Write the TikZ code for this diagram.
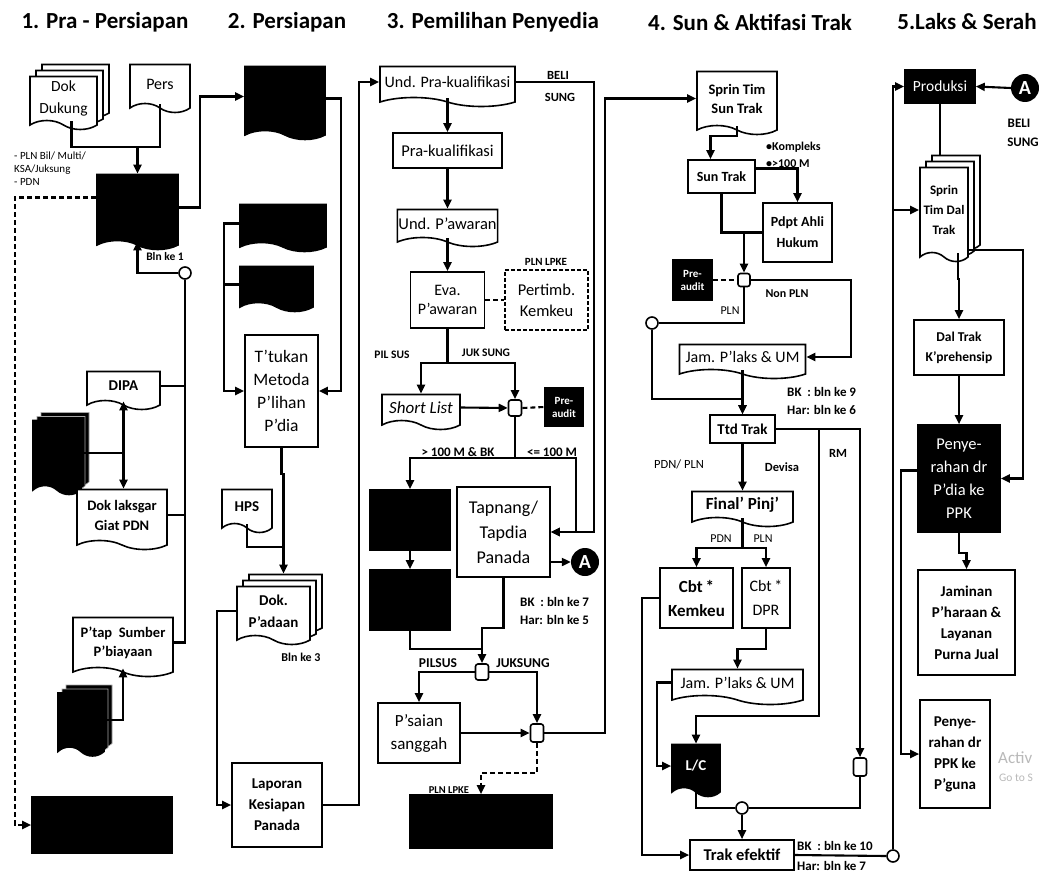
\documentclass[tikz,border=0pt]{standalone}
\usepackage{fontspec}
\setmainfont{Carlito}
\usetikzlibrary{shapes.symbols,shadows,arrows.meta}
\newcommand{\fz}[2]{\fontsize{#1pt}{#2pt}\selectfont}
\begin{document}
\begin{tikzpicture}[x=1pt,y=-1pt,
  base/.style={draw=black, line width=1.6pt, fill=white, inner sep=1pt, align=center, font=\fz{15}{18}},
  box/.style={base, rectangle},
  doc/.style={base, tape, tape bend top=none, tape bend bottom=out and in, tape bend height=9pt},
  blk/.style={fill=black, draw=black, text=white},
  multi/.style={double copy shadow={shadow xshift=6pt, shadow yshift=6pt, fill=white, draw=black, line width=1.6pt}},
  bmulti/.style={double copy shadow={shadow xshift=4pt, shadow yshift=4pt, fill=black, draw=gray!70, line width=0.6pt}},
  sz/.style 2 args={minimum width=#1pt, minimum height=#2pt},
  junc/.style={draw, line width=1.6pt, fill=white, rounded corners=2.5pt, minimum width=13pt, minimum height=16pt, inner sep=0pt},
  circ/.style={circle, draw, line width=1.6pt, fill=white, minimum size=12pt, inner sep=0pt},
  acirc/.style={circle, fill=black, text=white, minimum size=28pt, inner sep=0pt, font=\bfseries\fz{20}{20}},
  lbl/.style={font=\bfseries\fz{12.5}{14}, inner sep=0pt},
  rlbl/.style={font=\fz{12}{14}, inner sep=0pt},
  lnk/.style={line width=2.1pt},
  arr/.style={lnk, -{Triangle[length=9pt,width=8pt]}},
  arrb/.style={lnk, {Triangle[length=9pt,width=8pt]}-{Triangle[length=9pt,width=8pt]}},
  dsh/.style={lnk, dash pattern=on 5pt off 3pt},
  head/.style={font=\bfseries\fz{23}{26}, inner sep=0pt},
  pre/.style={box, blk, font=\bfseries\fz{11}{13}, inner sep=0pt},
]
\useasboundingbox (0,0) rectangle (1046,872);
\fill[white] (0,0) rectangle (1046,872);

% headings
\node[head] (h1) at (105,22) {1. Pra - Persiapan};
\node[head] (h2) at (287,22) {2. Persiapan};
\node[head] (h3) at (493,22) {3. Pemilihan Penyedia};
\node[head] (h4) at (750,22) {4. Sun \& Aktifasi Trak};
\node[head] (h5) at (967,22) {5.Laks \& Serah};

% ---------------- column 1
\node[doc, multi, sz={67}{53}, font=\fz{15.5}{22}] (dokdukung) at (63.5,98.5) {Dok\\Dukung};
\node[doc, sz={60}{48}, font=\fz{16}{18}] (pers) at (160,84) {Pers};
\node[doc, blk, sz={81}{75}] (predoc) at (137.5,207.5) {};
\node[doc, sz={73}{38}, font=\bfseries\fz{15}{17}] (dipa) at (123.5,386) {DIPA};
\node[doc, blk, bmulti, sz={48}{74}] (blk1) at (57,453) {};
\node[doc, sz={90}{60}, font=\bfseries\fz{14.5}{20}] (doklak) at (122,515) {Dok laksgar\\Giat PDN};
\node[doc, sz={100}{59}, font=\bfseries\fz{14.5}{19}] (ptap) at (123,642.5) {P'tap~ Sumber\\P'biayaan};
\node[doc, blk, bmulti, sz={46}{63}] (blk2) at (81,720) {};
\node[box, blk, sz={140}{56}] (blk3) at (102,825) {};
\node[circ] (c1) at (185,273) {};
\node[anchor=north west, align=left, font=\fz{11}{13}, inner sep=0pt] (lblpln) at (14,152) {-~PLN Bil/ Multi/\\KSA/Juksung\\-~PDN};
\node[lbl, font=\bfseries\fz{11.5}{13}] (lbln1) at (165,257) {Bln ke 1};

% ---------------- column 2
\node[doc, blk, sz={80}{73}] (prep1) at (285,98.5) {};
\node[doc, blk, sz={86}{47}] (prep2) at (283,223.5) {};
\node[doc, blk, sz={73}{45}] (prep3) at (276.5,284.5) {};
\node[box, sz={73}{112}, font=\fz{17.5}{23}] (ttukan) at (281.5,391) {T'tukan\\Metoda\\P'lihan\\P'dia};
\node[doc, sz={50}{43}, font=\bfseries\fz{15}{17}] (hps) at (247,506.5) {HPS};
\node[doc, multi, sz={73}{58}, font=\bfseries\fz{15}{22}] (dokpadaan) at (273.5,611) {Dok.\\P'adaan};
\node[lbl, font=\bfseries\fz{12}{13}] (lbln3) at (301,657) {Bln ke 3};
\node[box, sz={90}{84}, font=\bfseries\fz{15}{21}] (laporan) at (277,805) {Laporan\\Kesiapan\\Panada};

% ---------------- column 3
\node[doc, sz={135}{40}, font=\fz{16}{18}] (undpra) at (447.5,82) {Und. Pra-kualifikasi};
\node[box, sz={109}{35}, font=\fz{16.5}{18}] (prakual) at (447.5,150.5) {Pra-kualifikasi};
\node[doc, sz={100}{37}, font=\fz{16.5}{18}] (undpaw) at (447.5,223.5) {Und. P'awaran};
\node[box, sz={74}{56}, font=\fz{16}{19}] (eva) at (447.5,300) {Eva.\\P'awaran};
\node[box, dash pattern=on 4pt off 2pt, sz={83}{60}, font=\fz{16.5}{21}] (pertimb) at (546.5,300) {Pertimb.\\Kemkeu};
\node[lbl, font=\bfseries\fz{11}{12}] (lplnlpke1) at (546,262) {PLN LPKE};
\node[doc, sz={78}{35}, font=\itshape\fz{17}{19}] (shortlist) at (421,407.5) {Short List};
\node[junc] (sq1) at (515,408) {};
\node[pre, sz={38}{38}] (preaud1) at (564,407) {Pre-\\audit};
\node[lbl, font=\bfseries\fz{11.5}{13}] (lpilsus1) at (392,355) {PIL SUS};
\node[lbl, font=\bfseries\fz{11.5}{13}] (ljuksung1) at (486,353) {JUK SUNG};
\node[box, blk, sz={80}{60}] (blkA) at (410,520) {};
\node[box, blk, sz={80}{60}] (blkB) at (410,600) {};
\node[box, sz={93}{90}, font=\fz{18}{25}] (tapnang) at (503.5,532) {Tapnang/\\Tapdia\\Panada};
\node[acirc] (circA) at (585,562) {A};
\node[lbl, font=\bfseries\fz{13}{14}] (l100a) at (458,452) {> 100 M \& BK};
\node[lbl, font=\bfseries\fz{13}{14}] (l100b) at (552,452) {<= 100 M};
\node[lbl, anchor=west, font=\bfseries\fz{13}{14}] (lbk7) at (520,602) {BK~ : bln ke 7};
\node[lbl, anchor=west, font=\bfseries\fz{13}{14}] (lhar5) at (520,620) {Har: bln ke 5};
\node[junc] (sq2) at (482,672) {};
\node[lbl, font=\bfseries\fz{13.5}{14}] (lpilsus2) at (438,663) {PILSUS};
\node[lbl, font=\bfseries\fz{13.5}{14}] (ljuksung2) at (523,663) {JUKSUNG};
\node[box, sz={82}{60}, font=\fz{17}{23}] (psaian) at (419,733) {P'saian\\sanggah};
\node[junc, minimum height=18pt] (sq3) at (537,733) {};
\node[box, blk, sz={142}{53}] (blkC) at (481,821.5) {};
\node[lbl, font=\bfseries\fz{10.5}{12}] (lplnlpke2) at (449,790) {PLN LPKE};
\node[lbl, font=\bfseries\fz{12.5}{14}] (lbeli1) at (558,75) {BELI};
\node[lbl, font=\bfseries\fz{12.5}{14}] (lsung1) at (560,97) {SUNG};

% ---------------- column 4
\node[doc, sz={80}{63}, font=\bfseries\fz{14.5}{19}] (sprin) at (737,98.5) {Sprin Tim\\Sun Trak};
\node[box, sz={67}{33}, font=\bfseries\fz{14}{16}] (suntrak) at (721.5,176.5) {Sun Trak};
\node[box, sz={69}{59}, font=\bfseries\fz{14}{21}] (pdpt) at (797.5,232.5) {Pdpt Ahli\\Hukum};
\node[lbl, anchor=west, font=\bfseries\fz{12}{13}] (lkomp) at (766,147) {•Kompleks};
\node[lbl, anchor=west, font=\bfseries\fz{12}{13}] (l100c) at (766,164) {•>100 M};
\node[junc, minimum width=12pt, minimum height=13pt] (sq4) at (744,280) {};
\node[pre, sz={39}{40}] (preaud2) at (692.5,280) {Pre-\\audit};
\node[circ] (circ2) at (652,323) {};
\node[lbl, font=\bfseries\fz{12}{13}] (lnonpln) at (787,294) {Non PLN};
\node[rlbl] (lpln1) at (730,311) {PLN};
\node[doc, sz={126}{34}, font=\fz{16}{18}] (jam1) at (742.5,357) {Jam. P'laks \& UM};
\node[lbl, anchor=west, font=\bfseries\fz{13}{14}] (lbk9) at (787,392) {BK~ : bln ke 9};
\node[lbl, anchor=west, font=\bfseries\fz{13}{14}] (lhar6) at (787,410) {Har: bln ke 6};
\node[box, sz={65}{28}, font=\bfseries\fz{15}{16}] (ttd) at (742.5,429) {Ttd Trak};
\node[rlbl, font=\fz{12.5}{14}] (lpdnpln) at (679,464) {PDN/ PLN};
\node[lbl] (ldevisa) at (782,467) {Devisa};
\node[lbl] (lrm) at (838,453) {RM};
\node[doc, sz={101}{35}, font=\bfseries\fz{17}{18}] (final) at (742.5,504.5) {Final' Pinj'};
\node[rlbl] (lpdn) at (721,539) {PDN};
\node[rlbl] (lpln2) at (763,539) {PLN};
\node[box, sz={73}{60}, font=\bfseries\fz{17}{24}] (cbtk) at (696.5,598) {Cbt\,*\\Kemkeu};
\node[box, sz={48}{60}, font=\fz{16}{24}] (cbtd) at (766,598) {Cbt\,*\\DPR};
\node[doc, sz={131}{35}, font=\fz{16}{18}] (jam2) at (737.5,682.5) {Jam. P'laks \& UM};
\node[doc, blk, sz={48}{52}, font=\bfseries\fz{15}{16}] (lc) at (696,766) {L/C};
\node[junc, minimum height=18pt] (sq5) at (860,767) {};
\node[circ] (circ3) at (742,808) {};
\node[box, sz={104}{30}, font=\bfseries\fz{16.5}{17}] (trak) at (742,855) {Trak efektif};
\node[circ] (circ4) at (893,856) {};
\node[lbl, anchor=west, font=\bfseries\fz{13}{14}] (lbk10) at (797,846) {BK~ : bln ke 10};
\node[lbl, anchor=west, font=\bfseries\fz{13}{14}] (lhar7) at (797,866) {Har: bln ke 7};

% ---------------- column 5
\node[box, blk, sz={70}{33}, font=\fz{15.5}{17}] (produksi) at (940,86.5) {Produksi};
\node[acirc] (circA2) at (1025,88) {A};
\node[lbl, font=\bfseries\fz{13}{14}] (lbeli2) at (1019,123) {BELI};
\node[lbl, font=\bfseries\fz{13}{14}] (lsung2) at (1023,142) {SUNG};
\node[doc, multi, sz={48}{94}, font=\bfseries\fz{13}{20}] (sprindal) at (944,210) {Sprin\\Tim Dal\\Trak};
\node[box, sz={90}{55}, font=\bfseries\fz{13.5}{20}] (daltrak) at (959,347.5) {Dal Trak\\K'prehensip};
\node[box, blk, sz={82}{107}, font=\fz{16.5}{23}] (penyer1) at (959,478.5) {Penye-\\rahan dr\\P'dia ke\\PPK};
\node[box, sz={97}{105}, font=\bfseries\fz{15}{21}] (jaminan) at (966.5,622.5) {Jaminan\\P'haraan \&\\Layanan\\Purna Jual};
\node[box, sz={70}{108}, font=\bfseries\fz{15}{21}] (penyer2) at (955,754) {Penye-\\rahan dr\\PPK ke\\P'guna};
\node[anchor=west, text=gray!55, font=\fz{17}{19}, inner sep=0pt] (wm1) at (998,758) {Activ};
\node[anchor=west, text=gray!55, font=\fz{11.5}{13}, inner sep=0pt] (wm2) at (999,778) {Go to S};

% ================= connectors
% column 1
\coordinate (j1) at (137.5,147);
\draw[lnk] ([xshift=8pt]dokdukung.south) |- (j1) -| (pers.south);
\draw[arr] (j1) -- (predoc.north);
\draw[dsh, -{Triangle[length=9pt,width=8pt]}] ([yshift=10pt]predoc.west) -| (15,825) -- (blk3.west);
\draw[arr] (predoc.east) -- ++(21,0) |- ([yshift=2pt]prep1.west);
\draw[arr] (c1.west) -| (predoc.south);
\draw[lnk] (c1.south) |- (ptap.east);
\draw[lnk] (dipa.east) -- (dipa.east -| c1);
\draw[lnk] (doklak.east) -- (doklak.east -| c1);
\draw[arrb] (dipa.south) -- (dipa.south |- doklak.north);
\draw[lnk] (blk1.east) -- (blk1.east -| dipa.south);
\draw[arr] (blk2.east) -| (ptap.south);

% column 2
\draw[arr] (prep1.east) -- ++(15,0) |- (ttukan.east);
\draw[arr] (prep2.west) -- ++(-15,0) |- (ttukan.west);
\draw[lnk] (prep3.west) -- ++(-15,0);
\draw[arr] (ttukan.south) -- ++(0,26) -| ([xshift=10pt,yshift=12pt]dokpadaan.north);
\draw[lnk] (hps.south) |- ([xshift=10pt,yshift=39pt]dokpadaan.north);
\draw[arr] (dokpadaan.west) -- ++(-19,0) |- (laporan.west);
\draw[arr] (laporan.east) -- ++(36,0) |- (undpra.west);

% column 3
\draw[arr] (undpra.south) -- (prakual.north);
\draw[arr] (prakual.south) -- (undpaw.north);
\draw[arr] (undpaw.south) -- (eva.north);
\draw[dsh] (eva.east) -- (pertimb.west);
\draw[arr] (eva.south) -- ++(0,34) -| (shortlist.north);
\draw[arr] (eva.south) ++(0,34) -| (sq1.north);
\draw[arr] (shortlist.east) -- (sq1.west);
\draw[dsh] (sq1.east) -- (preaud1.west);
\coordinate (s2) at (515,458);
\draw[lnk] (sq1.south) -- (s2);
\draw[arr] (s2) -| (blkA.north);
\draw[arr] (s2) -| ([xshift=25pt]tapnang.east) -- (tapnang.east);
\draw[arr] (undpra.east) -| ([xshift=43pt]tapnang.east) -- (tapnang.east);
\draw[arr] (blkA.south) -- (blkB.north);
\draw[arr] (tapnang.east |- circA.west) -- (circA.west);
\draw[arr] (tapnang.south) -- ++(0,50) -| (sq2.north);
\draw[lnk] (blkB.south) |- ([yshift=14pt]sq2.north);
\draw[arr] (sq2.west) -| (psaian.north);
\draw[arr] (sq2.east) -| (sq3.north);
\draw[arr] (psaian.east) -- (sq3.west);
\draw[arr] (sq3.east) -| ([xshift=-91pt]sprin.west) -- (sprin.west);
\draw[dsh, -{Triangle[length=9pt,width=8pt]}] (sq3.south) -- ++(0,30) -| (blkC.north);

% column 4
\draw[arr] (sprin.south) -- ++(0,10) -| ([xshift=-11pt]suntrak.north);
\draw[arr] ([yshift=8pt]suntrak.east) -| (pdpt.north);
\draw[lnk] (suntrak.south) |- (pdpt.west);
\draw[arr] (sq4.north |- pdpt.west) -- (sq4.north);
\draw[dsh] (preaud2.east) -- (sq4.west);
\draw[arr] (sq4.east) -| ([xshift=45pt]jam1.east) -- (jam1.east);
\draw[lnk] (sq4.south) |- (circ2.east);
\draw[arr] (circ2.south) |- ([yshift=15pt]ttd.north) -- (ttd.north);
\draw[arr] (jam1.south) -- (ttd.north);
\draw[arr] (ttd.east) -| (sq5.north);
\draw[arr] ([xshift=43pt]ttd.east) |- ([yshift=28pt]lc.north) -- (lc.north);
\draw[arr] (ttd.south) -- (final.north);
\coordinate (s4) at (742.5,548);
\draw[lnk] (final.south) -- (s4);
\draw[arr] (s4) -| (cbtk.north);
\draw[arr] (s4) -| (cbtd.north);
\draw[arr] (cbtd.south) -- ++(0,20) -| (jam2.north);
\draw[arr] (jam2.west) -- ++(-14,0) |- (lc.west);
\draw[arr] (cbtk.west) -- ++(-17,0) |- (trak.west);
\draw[lnk] (lc.south) |- (circ3.west);
\draw[lnk] (circ3.east) -| (sq5.south);
\draw[arr] (circ3.south) -- (trak.north);
\draw[lnk] (trak.east) -- (circ4.west);

% column 5
\draw[arr] (circA2.west) -- (produksi.east);
\draw[arr] (circ4.north) |- (produksi.west);
\draw[arr] (circ4.north |- sprindal.west) -- (sprindal.west);
\draw[lnk] (produksi.south) -- ([xshift=-4pt,yshift=12pt]sprindal.north);
\draw[arr] ([xshift=14pt]sprindal.south) -- ++(0,26) -| (daltrak.north);
\draw[arr] ([yshift=-40pt]sprindal.east) -| ([xshift=22pt]penyer1.east) -- (penyer1.east);
\draw[arr] (daltrak.south) -- (penyer1.north);
\draw[arr] ([yshift=8pt]penyer1.west) -- ++(-16,0) |- (penyer2.west);
\draw[arr] (penyer1.south) -- ++(0,20) -| (jaminan.north);
\end{tikzpicture}
\end{document}
